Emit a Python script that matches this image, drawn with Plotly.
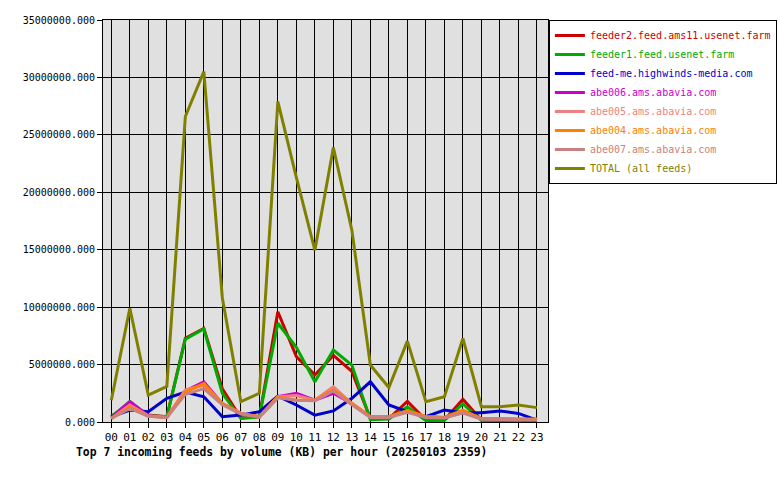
import plotly.graph_objects as go

hours = [f"{h:02d}" for h in range(24)]
hour_idx = list(range(24))

feeder2 = [0.5, 1.6, 0.6, 0.45, 7.3, 8.15, 2.9, 0.35, 0.45, 9.6, 5.7, 4.1,
           5.8, 4.4, 0.3, 0.3, 1.8, 0.17, 0.17, 1.97, 0.17, 0.15, 0.2, 0.1]
feeder1 = [0.45, 1.8, 0.55, 0.45, 7.2, 8.1, 2.5, 0.3, 0.45, 8.6, 6.5, 3.5,
           6.26, 4.96, 0.2, 0.25, 1.33, 0.12, 0.15, 1.57, 0.15, 0.15, 0.15, 0.05]
highwinds = [0.46, 1.04, 0.9, 2.06, 2.6, 2.2, 0.46, 0.6, 0.9, 2.26, 1.48, 0.6,
             0.96, 2.06, 3.5, 1.48, 0.9, 0.46, 1.04, 0.81, 0.8, 0.96, 0.75, 0.17]
abe006 = [0.35, 1.77, 0.55, 0.4, 2.7, 3.5, 1.6, 0.75, 0.45, 2.2, 2.5, 1.9,
          2.5, 1.6, 0.46, 0.46, 0.9, 0.46, 0.4, 0.9, 0.3, 0.25, 0.25, 0.25]
abe005 = [0.3, 1.48, 0.55, 0.4, 2.8, 3.2, 1.6, 0.75, 0.45, 2.2, 2.3, 1.9,
          3.07, 1.6, 0.46, 0.46, 0.9, 0.46, 0.4, 0.8, 0.3, 0.25, 0.25, 0.25]
abe004 = [0.3, 1.3, 0.5, 0.4, 2.6, 3.35, 1.6, 0.75, 0.45, 2.2, 1.9, 1.9,
          2.8, 1.6, 0.46, 0.46, 1.0, 0.46, 0.4, 1.04, 0.3, 0.25, 0.25, 0.25]
abe007 = [0.3, 1.19, 0.5, 0.4, 2.4, 2.9, 1.5, 0.7, 0.4, 2.1, 1.9, 1.85,
          2.7, 1.5, 0.4, 0.4, 0.85, 0.4, 0.35, 0.8, 0.25, 0.2, 0.2, 0.2]
total = [1.9, 9.9, 2.35, 3.1, 26.6, 30.5, 10.8, 1.77, 2.5, 27.9, 21.3, 14.96,
         23.9, 16.7, 4.96, 3.0, 7.04, 1.77, 2.2, 7.28, 1.33, 1.33, 1.48, 1.25]

series = [
    ("feeder2.feed.ams11.usenet.farm", feeder2, "#cc0000"),
    ("feeder1.feed.usenet.farm", feeder1, "#00aa00"),
    ("feed-me.highwinds-media.com", highwinds, "#0000cc"),
    ("abe006.ams.abavia.com", abe006, "#cc00cc"),
    ("abe005.ams.abavia.com", abe005, "#f08080"),
    ("abe004.ams.abavia.com", abe004, "#ff8000"),
    ("abe007.ams.abavia.com", abe007, "#c88080"),
    ("TOTAL (all feeds)", total, "#808000"),
]

ytick_vals = [0, 5e6, 10e6, 15e6, 20e6, 25e6, 30e6, 35e6]
ytick_text = [f"{v:.3f}" for v in ytick_vals]

fig = go.Figure()
for name, vals, color in series:
    fig.add_trace(go.Scatter(
        x=hour_idx, y=[v * 1e6 for v in vals],
        name=f"<span style='color:{color}'>{name}</span>", mode="lines",
        line=dict(color=color, width=3),
        hoverinfo="skip",
    ))

mono = "DejaVu Sans Mono"
fig.update_layout(
    width=780, height=480,
    margin=dict(l=103, r=232, t=20, b=58, autoexpand=False),
    paper_bgcolor="white",
    plot_bgcolor="#e0e0e0",
    showlegend=True,
    legend=dict(
        x=1.002, xanchor="left", y=1.0, yanchor="top",
        bgcolor="white", bordercolor="black", borderwidth=1,
        font=dict(family=mono, size=10),
        tracegroupgap=0, itemwidth=30,
    ),
    font=dict(family=mono, size=10, color="black"),
    annotations=[dict(
        text="<b>Top 7 incoming feeds by volume (KB) per hour (20250103 2359)</b>",
        xref="paper", yref="paper", x=-0.065, y=-0.075,
        xanchor="left", yanchor="middle", showarrow=False,
        font=dict(family=mono, size=11.4, color="black"),
    )],
)
fig.update_xaxes(
    range=[-0.45, 23.6], tickmode="array", tickvals=hour_idx, ticktext=hours,
    showgrid=True, gridcolor="black", gridwidth=1,
    ticks="outside", ticklen=5, tickcolor="black",
    showline=True, linecolor="black", linewidth=1, mirror=True,
    zeroline=False, fixedrange=True,
    tickfont=dict(family=mono, size=11),
)
fig.update_yaxes(
    range=[0, 35e6], tickmode="array", tickvals=ytick_vals, ticktext=ytick_text,
    showgrid=True, gridcolor="black", gridwidth=1,
    ticks="outside", ticklen=5, tickcolor="black",
    showline=True, linecolor="black", linewidth=1, mirror=True,
    zeroline=False, fixedrange=True,
    tickfont=dict(family=mono, size=10),
)

fig.write_html("out.html")
